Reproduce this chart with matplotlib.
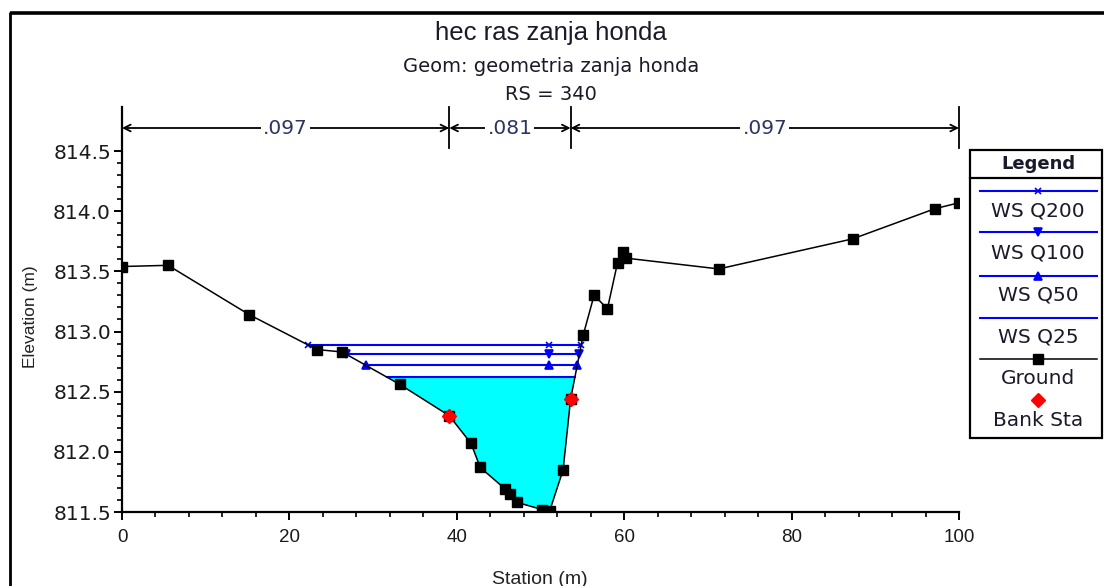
import numpy as np
import matplotlib
matplotlib.use("Agg")
import matplotlib.pyplot as plt
from matplotlib.patches import Rectangle

# ---------------- data ----------------
station = [0, 5.5, 15.2, 23.3, 26.3, 33.2, 39.1, 41.7, 42.8, 45.8, 46.4, 47.2,
           50.2, 51.1, 52.7, 53.6, 55.1, 56.4, 58.0, 59.2, 59.8, 60.2, 71.3,
           87.3, 97.1, 100]
ground = [813.54, 813.55, 813.14, 812.85, 812.83, 812.56, 812.30, 812.07, 811.87,
          811.69, 811.65, 811.58, 811.52, 811.51, 811.85, 812.44, 812.97, 813.30,
          813.19, 813.57, 813.66, 813.61, 813.52, 813.77, 814.02, 814.07]
bank_sta = [39.1, 53.6]
ws_names = ["WS Q200", "WS Q100", "WS Q50", "WS Q25"]
ws_elev = [812.89, 812.81, 812.72, 812.62]
ws_markers = ["x", "v", "^", None]
n_values = [".097", ".081", ".097"]
title = "hec ras zanja honda"
subtitle = "Geom: geometria zanja honda"
rs_label = "RS = 340"
xticks = [0, 20, 40, 60, 80, 100]
yticks = [811.5, 812.0, 812.5, 813.0, 813.5, 814.0, 814.5]

W, H = 1104, 586
fig = plt.figure(figsize=(W / 100, H / 100), dpi=100)
fig.patch.set_facecolor("white")

def fx(px):
    return px / W

def fy(py):
    return 1 - py / H

# main axes (pixel box: x 122..959, y 107..512)
ax = fig.add_axes([fx(122), fy(512), fx(959) - fx(122), fy(107) - fy(512)])
ymin, ymax = 811.5, 811.5 + (512 - 107) / 120.33
ax.set_xlim(0, 100)
ax.set_ylim(ymin, ymax)
for s in ["top", "right"]:
    ax.spines[s].set_visible(False)
for s in ["left", "bottom"]:
    ax.spines[s].set_linewidth(1.6)
ax.set_xticks(xticks)
ax.set_xticks(np.arange(0, 101, 4), minor=True)
ax.set_yticks(yticks)
ax.set_yticks(np.round(np.arange(811.5, 814.51, 0.1), 2), minor=True)
ax.set_yticklabels([f"{v:.1f}" for v in yticks], fontfamily="DejaVu Sans", fontsize=14.5, color="#1a1a1a")
ax.set_xticklabels([str(v) for v in xticks], fontfamily="Liberation Sans", fontsize=13.5, color="#1a1a1a")
ax.tick_params(which="major", direction="out", length=6, width=1.4)
ax.tick_params(axis="x", which="major", pad=6)
ax.tick_params(axis="y", which="major", pad=2)
ax.tick_params(which="minor", direction="out", length=3.5, width=1.2)

st = np.array(station)
gr = np.array(ground)
imin = int(np.argmin(gr))

def crossings(w):
    i = imin
    while gr[i] < w:
        i -= 1
    xl = st[i] + (w - gr[i]) * (st[i + 1] - st[i]) / (gr[i + 1] - gr[i])
    j = imin
    while gr[j] < w:
        j += 1
    xr = st[j - 1] + (w - gr[j - 1]) * (st[j] - st[j - 1]) / (gr[j] - gr[j - 1])
    return xl, xr

# water fill for lowest profile
w25 = ws_elev[-1]
xl, xr = crossings(w25)
inside = (st > xl) & (st < xr)
px = np.concatenate([[xl], st[inside], [xr]])
py = np.concatenate([[w25], gr[inside], [w25]])
ax.fill(px, py, color="#00FFFF", zorder=1, lw=0)

# WS lines
for name, w, m in zip(ws_names, ws_elev, ws_markers):
    a, b = crossings(w)
    ax.plot([a, b], [w, w], color="#0000FF", lw=1.5, zorder=3)
    if m is not None:
        mx = [a, 51.0, b]
        ax.plot(mx, [w] * 3, ls="none", marker=m, color="#0000FF",
                markersize=6 if m != "x" else 5, mew=1.2, zorder=4)

# ground
ax.plot(st, gr, color="black", lw=1.1, marker="s", markersize=7.5, zorder=5)
bank_el = np.interp(bank_sta, st, gr)
ax.plot(bank_sta, bank_el, ls="none", marker="D", color="red", markersize=7, zorder=6)

# Manning's n brackets
n_edges = [0] + bank_sta + [100]
y_arrow = 811.5 + (512 - 128) / 120.33
y_vlow = 811.5 + (512 - 148) / 120.33
for xe in n_edges:
    ax.plot([xe, xe], [y_vlow, ymax], color="black", lw=1.3, clip_on=False, zorder=2)
for k, lab in enumerate(n_values):
    x0, x1 = n_edges[k], n_edges[k + 1]
    ax.annotate("", xy=(x1, y_arrow), xytext=(x0, y_arrow),
                arrowprops=dict(arrowstyle="<->", lw=1.3, color="black",
                                shrinkA=0, shrinkB=0, mutation_scale=12))
    ax.text((x0 + x1) / 2, y_arrow, lab, ha="center", va="center",
            fontfamily="DejaVu Sans", fontsize=14.5, color="#2a3560",
            bbox=dict(facecolor="white", edgecolor="none", pad=1.5), zorder=3)

# ------------- overlay in pixel coordinates -------------
ov = fig.add_axes([0, 0, 1, 1], facecolor="none", zorder=10)
ov.set_xlim(0, W)
ov.set_ylim(H, 0)
ov.axis("off")

# outer frame
ov.plot([10, W + 5], [13, 13], color="black", lw=2.6, solid_capstyle="butt")
ov.plot([10, 10], [12, H + 5], color="black", lw=2.0, solid_capstyle="butt")

# titles
ov.text(551, 33, title, ha="center", va="center", fontfamily="Liberation Sans",
        fontsize=18.5, color="#1a1a2a")
ov.text(551, 67, subtitle, ha="center", va="center", fontfamily="DejaVu Sans",
        fontsize=14, color="#1a1a2a")
ov.text(551, 94, rs_label, ha="center", va="center", fontfamily="DejaVu Sans",
        fontsize=14, color="#1a1a2a")

# axis labels
ov.text(31, 317, "Elevation (m)", ha="center", va="center", rotation=90,
        fontfamily="Liberation Sans", fontsize=12.5, color="#222")
ov.text(540, 579, "Station (m)", ha="center", va="center",
        fontfamily="Liberation Sans", fontsize=14, color="#222")

# legend box
ov.add_patch(Rectangle((970, 150), 132, 288, facecolor="white", edgecolor="black", lw=1.6))
ov.plot([970, 1102], [178, 178], color="black", lw=1.6)
ov.text(1038, 164, "Legend", ha="center", va="center", fontfamily="DejaVu Sans",
        fontweight="bold", fontsize=13, color="#1a1a2a")
leg_line_y = [191, 232, 276, 318]
leg_text_y = [211, 253, 295, 337]
for name, m, ly, ty in zip(ws_names, ws_markers, leg_line_y, leg_text_y):
    ov.plot([980, 1097], [ly, ly], color="#0000FF", lw=1.5)
    if m is not None:
        ov.plot([1038], [ly], marker=m, color="#0000FF", markersize=6 if m != "x" else 5, mew=1.2)
    ov.text(1038, ty, name, ha="center", va="center", fontfamily="DejaVu Sans",
            fontsize=14.5, color="#1a1a2a")
ov.plot([980, 1097], [359, 359], color="black", lw=1.1)
ov.plot([1038], [359], marker="s", color="black", markersize=7.5)
ov.text(1038, 379, "Ground", ha="center", va="center", fontfamily="DejaVu Sans",
        fontsize=14.5, color="#1a1a2a")
ov.plot([1038], [400], marker="D", color="red", markersize=7)
ov.text(1038, 421, "Bank Sta", ha="center", va="center", fontfamily="DejaVu Sans",
        fontsize=14.5, color="#1a1a2a")

fig.savefig("out.png", dpi=100)
